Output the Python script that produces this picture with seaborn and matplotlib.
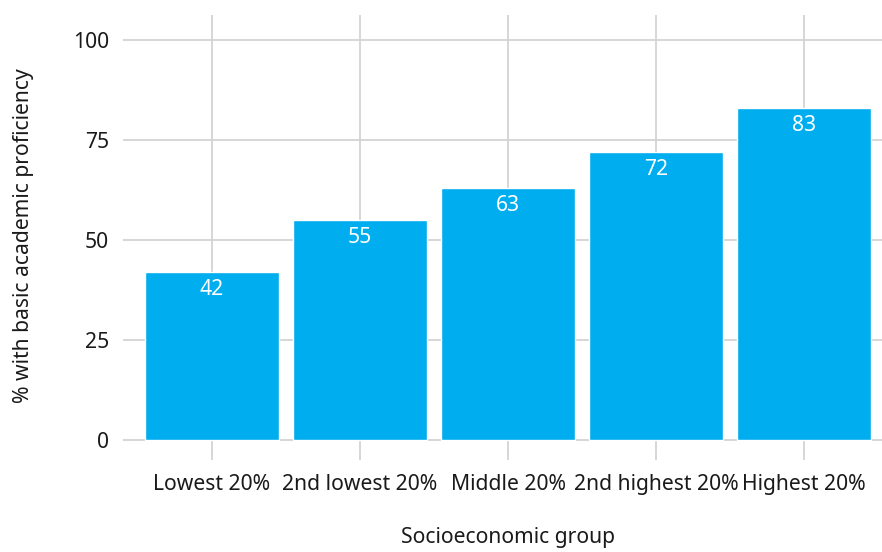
import matplotlib
matplotlib.use("Agg")
import matplotlib.pyplot as plt
import seaborn as sns
import pandas as pd

groups = ["Lowest 20%", "2nd lowest 20%", "Middle 20%", "2nd highest 20%", "Highest 20%"]
values = [42, 55, 63, 72, 83]
y_ticks = [0, 25, 50, 75, 100]

sns.set_theme(style="white")
plt.rcParams["font.family"] = ["Noto Sans", "DejaVu Sans"]

df = pd.DataFrame({"group": groups, "value": values})

W, H = 882, 552
FS = 15.2
fig = plt.figure(figsize=(W / 100, H / 100), dpi=100)
ax = fig.add_axes([123 / W, (H - 460) / H, 770 / W, 445 / H])

sns.barplot(data=df, x="group", y="value", color="#00AEEF", saturation=1,
            width=0.905, ax=ax, zorder=2)

grid_col = "#d3d3d3"
ax.set_axisbelow(True)
ax.xaxis.grid(True, color=grid_col, linewidth=1.3)
ax.yaxis.grid(True, color=grid_col, linewidth=1.3)

for i, v in enumerate(values):
    ax.annotate(f"{v}", xy=(i, v), xytext=(0, -5), textcoords="offset points",
                ha="center", va="top", color="white", fontsize=FS, zorder=3)

ax.set_xlim(-0.6, 4.6)
ax.set_ylim(-5, 106.25)
ax.set_yticks(y_ticks)
ax.set_yticklabels([str(t) for t in y_ticks])

for s in ax.spines.values():
    s.set_visible(False)

ax.tick_params(axis="both", length=0, labelsize=FS, labelcolor="#1a1a1a")
ax.tick_params(axis="x", pad=10)
ax.tick_params(axis="y", pad=10)

ax.set_xlabel("Socioeconomic group", fontsize=FS, color="#1a1a1a")
ax.set_ylabel("% with basic academic proficiency", fontsize=FS, color="#1a1a1a")
ax.xaxis.set_label_coords((508 - 123) / 770, -(527 - 460) / 445)
ax.yaxis.set_label_coords(-(123 - 34) / 770, (460 - 236) / 445)

fig.savefig("out.png", dpi=100)
